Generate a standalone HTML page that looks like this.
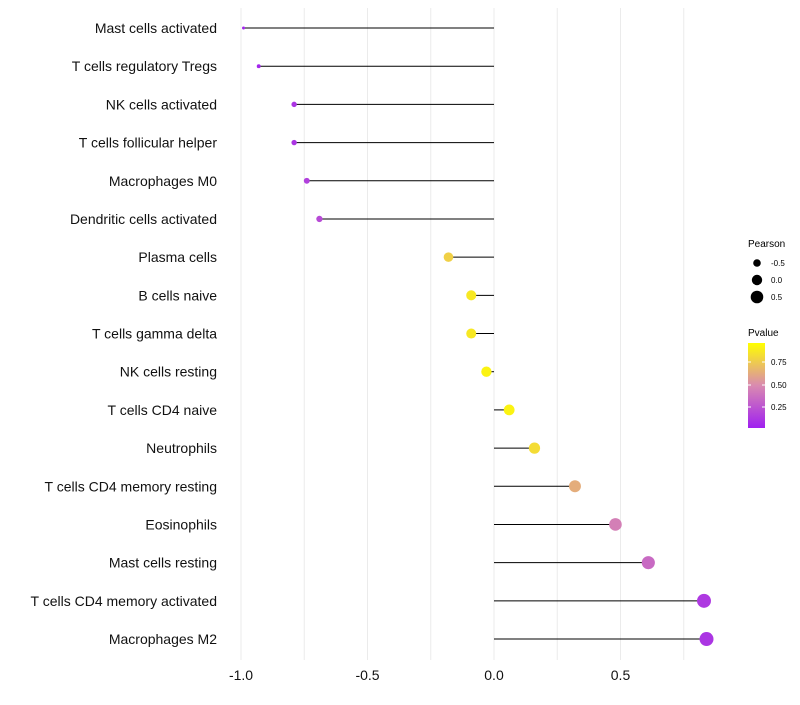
<!DOCTYPE html>
<html><head><meta charset="utf-8"><style>
body{margin:0;background:#fff;font-family:"Liberation Sans",sans-serif}
svg text{font-family:"Liberation Sans",sans-serif}
</style></head><body>
<svg id="chart" width="800" height="700">
<defs><linearGradient id="pg" x1="0" y1="1" x2="0" y2="0">
<stop offset="0" stop-color="#A020F0"/><stop offset="0.5" stop-color="#D98AB0"/><stop offset="1" stop-color="#FFFF00"/>
</linearGradient></defs>
<g id="grid"></g><g id="marks"></g><g id="labels"></g><g id="xticks"></g>
<g>
<text x="748" y="247" font-size="10">Pearson</text>
<circle cx="757" cy="263" r="3.8" fill="#000"/><text x="771" y="266" font-size="8">-0.5</text>
<circle cx="757" cy="280" r="5.2" fill="#000"/><text x="771" y="283" font-size="8">0.0</text>
<circle cx="757" cy="297" r="6.3" fill="#000"/><text x="771" y="300" font-size="8">0.5</text>
</g>
<g>
<text x="748" y="336" font-size="10">Pvalue</text>
<rect x="748" y="343" width="17" height="85" fill="url(#pg)"/>
<line x1="748" x2="751" y1="362" y2="362" stroke="#fff"/><line x1="762" x2="765" y1="362" y2="362" stroke="#fff"/>
<line x1="748" x2="751" y1="385" y2="385" stroke="#fff"/><line x1="762" x2="765" y1="385" y2="385" stroke="#fff"/>
<line x1="748" x2="751" y1="407" y2="407" stroke="#fff"/><line x1="762" x2="765" y1="407" y2="407" stroke="#fff"/>
<text x="771" y="365" font-size="8">0.75</text><text x="771" y="388" font-size="8">0.50</text><text x="771" y="410" font-size="8">0.25</text>
</g>
</svg>
<script>
const categories=["Mast cells activated","T cells regulatory  Tregs","NK cells activated","T cells follicular helper","Macrophages M0","Dendritic cells activated","Plasma cells","B cells naive","T cells gamma delta","NK cells resting","T cells CD4 naive","Neutrophils","T cells CD4 memory resting","Eosinophils","Mast cells resting","T cells CD4 memory activated","Macrophages M2"];
const pearson=[-0.99,-0.93,-0.79,-0.79,-0.74,-0.69,-0.18,-0.09,-0.09,-0.03,0.06,0.16,0.32,0.48,0.61,0.83,0.84];
const pvalues=[0.02,0.03,0.1,0.1,0.15,0.2,0.8,0.9,0.9,0.95,0.95,0.85,0.65,0.45,0.35,0.12,0.1];
const xTicks=[-1.0,-0.5,0.0,0.5];
const xTickLabels=["-1.0","-0.5","0.0","0.5"];
const NS="http://www.w3.org/2000/svg";
const xs=v=>494+253*v;
const ys=i=>28+i*38.19;
function col(p){const a=[160,32,240],m=[217,138,176],b=[255,255,0];let t,c0,c1;if(p<0.5){t=p/0.5;c0=a;c1=m}else{t=(p-0.5)/0.5;c0=m;c1=b}
return "rgb("+c0.map((c,k)=>Math.round(c+(c1[k]-c)*t)).join(",")+")";}
function rad(v){return Math.sqrt(Math.max(1,27.5+25.5*v));}
function mk(t,a,p){const e=document.createElementNS(NS,t);for(const k in a)e.setAttribute(k,a[k]);p.appendChild(e);return e;}
const grid=document.getElementById('grid'),marks=document.getElementById('marks'),labels=document.getElementById('labels'),xt=document.getElementById('xticks');
for(let v=-1;v<=0.76;v+=0.25){const l=mk('line',{x1:xs(v),x2:xs(v),y1:8,y2:660,stroke:'#ebebeb','stroke-width':1},grid);

}
categories.forEach((c,i)=>{
const y=ys(i);
const ln=mk('line',{x1:xs(0),x2:xs(pearson[i]),y1:y,y2:y,stroke:'#000','stroke-width':1},marks);


const ci=mk('circle',{cx:xs(pearson[i]),cy:y,r:rad(pearson[i]),fill:col(pvalues[i])},marks);


const t=mk('text',{x:217,y:y+5,'text-anchor':'end','font-size':14,fill:'#111'},labels);t.textContent=c;


});
xTicks.forEach((v,i)=>{const t=mk('text',{x:xs(v),y:680,'text-anchor':'middle','font-size':14,fill:'#111'},xt);t.textContent=xTickLabels[i];

});
</script>
</body></html>
